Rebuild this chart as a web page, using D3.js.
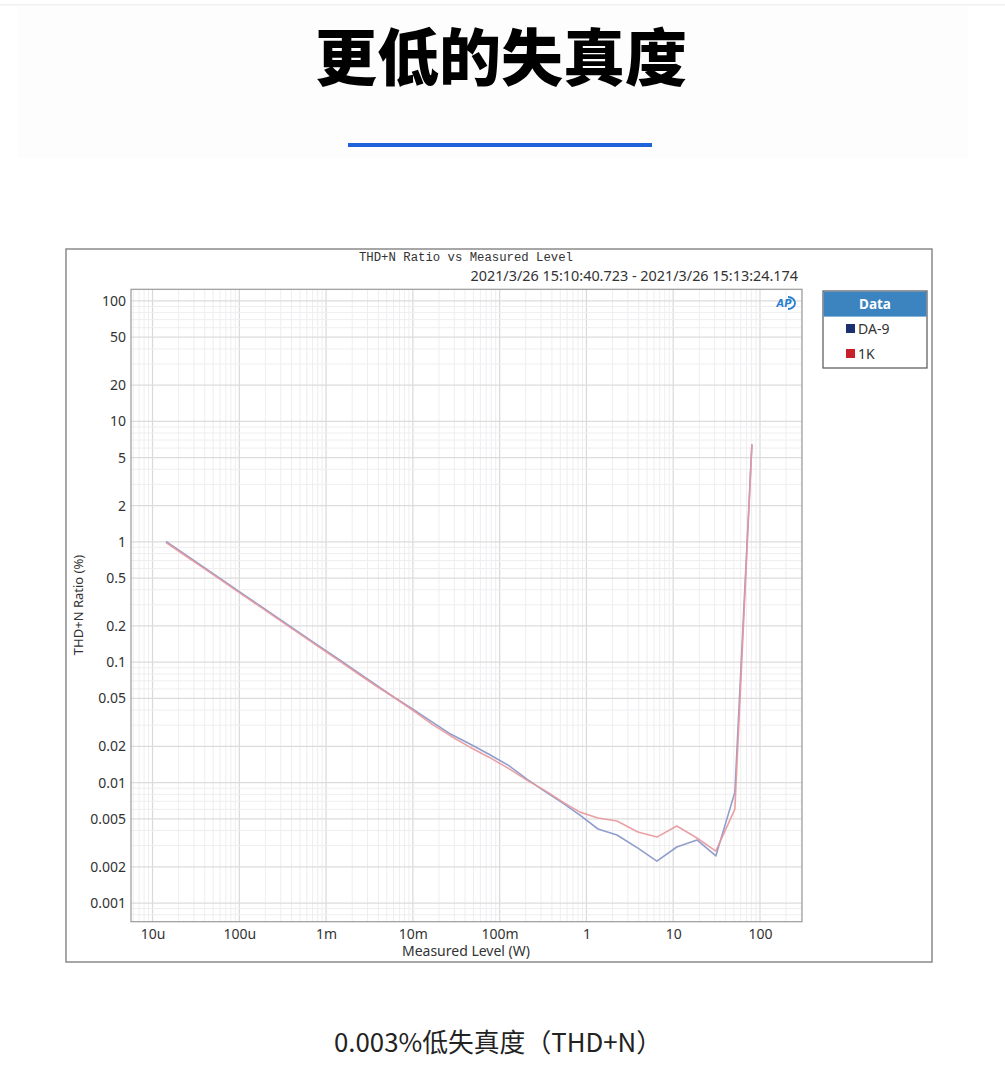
<!DOCTYPE html>
<html>
<head>
<meta charset="utf-8">
<script src="https://cdn.jsdelivr.net/npm/d3@7"></script>
<style>
  body { margin: 0; background: #fff; }
  svg { display: block; }
</style>
</head>
<body>
<script>
// Chart data
let levels = [1.43e-5, 2.37e-5, 3.92e-5, 6.49e-5, 1.07e-4, 1.78e-4, 2.94e-4, 4.87e-4,
  8.07e-4, 1.34e-3, 2.21e-3, 3.66e-3, 6.06e-3, 1.0e-2, 1.66e-2, 2.75e-2,
  4.55e-2, 7.53e-2, 0.125, 0.206, 0.342, 0.536, 0.842, 1.36,
  2.25, 3.92, 6.49, 11.0, 18.8, 31.0, 51.4, 80.7];
let da9 = [1.006, 0.785, 0.612, 0.478, 0.373, 0.291, 0.227, 0.177,
  0.138, 0.108, 0.0841, 0.0656, 0.0512, 0.0407, 0.032, 0.0252,
  0.0209, 0.0172, 0.01397, 0.0107, 0.00834, 0.00676, 0.00538, 0.00412,
  0.00367, 0.00286, 0.00223, 0.00292, 0.00334, 0.00246, 0.00834, 6.45];
let k1 = [0.987, 0.770, 0.601, 0.469, 0.366, 0.285, 0.2226, 0.1736,
  0.1354, 0.1057, 0.0825, 0.0644, 0.0512, 0.0399, 0.0306, 0.0243,
  0.0197, 0.01627, 0.01319, 0.01049, 0.0085, 0.00689, 0.00569, 0.00508,
  0.0048, 0.00389, 0.00353, 0.00436, 0.00347, 0.0027, 0.00603, 6.41];

let seriesNames = ["DA-9", "1K"];
let seriesColors = ["#1c2f70", "#c8202a"];
let lineColors = ["#8593c6", "#e8979b"];

let xTicks = [1e-5, 1e-4, 1e-3, 1e-2, 1e-1, 1, 10, 100];
let xTickLabels = ["10u", "100u", "1m", "10m", "100m", "1", "10", "100"];
let yTicks = [100, 50, 20, 10, 5, 2, 1, 0.5, 0.2, 0.1, 0.05, 0.02, 0.01, 0.005, 0.002, 0.001];
let yTickLabels = ["100", "50", "20", "10", "5", "2", "1", "0.5", "0.2", "0.1", "0.05", "0.02", "0.01", "0.005", "0.002", "0.001"];

let pageTitle = "更低的失真度";
let chartTitle = "THD+N Ratio vs Measured Level";
let chartStamp = "2021/3/26 15:10:40.723 - 2021/3/26 15:13:24.174";
let caption = "0.003%低失真度（THD+N）";

// Page size and plot box
let W = 1005, H = 1081;
let plot = {left: 131, right: 802, top: 289.3, bottom: 921.7};

let svg = d3.select("body").append("svg")
    .attr("width", W)
    .attr("height", H);

// Page header
svg.append("rect")
    .attr("x", 0).attr("y", 4).attr("width", W).attr("height", 1.5)
    .attr("fill", "#f0f0f0");
svg.append("rect")
    .attr("x", 18).attr("y", 6).attr("width", 950).attr("height", 152)
    .attr("fill", "#fdfdfd");

svg.append("text")
    .attr("x", 501).attr("y", 81)
    .attr("text-anchor", "middle")
    .style("font-family", "'Noto Sans CJK SC', sans-serif")
    .style("font-weight", 900)
    .style("font-size", "62px")
    .attr("fill", "#000")
    .text(pageTitle);

svg.append("rect")
    .attr("x", 348).attr("y", 143).attr("width", 304).attr("height", 4)
    .attr("fill", "#1d62d9");

// Chart frame
svg.append("rect")
    .attr("x", 66).attr("y", 249).attr("width", 866).attr("height", 713)
    .attr("fill", "#fff")
    .attr("stroke", "#8a8a8a")
    .attr("stroke-width", 1.5);

// Set the ranges
let x = d3.scaleLog().domain([5.65e-6, 305]).range([plot.left, plot.right]);
let y = d3.scaleLog().domain([0.0007, 125]).range([plot.bottom, plot.top]);

// Grid lines
let grid = svg.append("g");
let xGrid = [], yGrid = [];
for (let e = -6; e <= 3; e++) {
  for (let m = 1; m <= 9; m++) {
    let v = m * Math.pow(10, e);
    if (v > x.domain()[0] && v < x.domain()[1]) xGrid.push({v: v, major: m === 1});
    if (v > y.domain()[0] && v < y.domain()[1]) yGrid.push({v: v, major: m === 1 || m === 2 || m === 5});
  }
}
grid.selectAll(".xg").data(xGrid).enter().append("line")
    .attr("x1", d => x(d.v)).attr("x2", d => x(d.v))
    .attr("y1", plot.top).attr("y2", plot.bottom)
    .attr("stroke", d => d.major ? "#d9d9d9" : "#efedf0")
    .attr("stroke-width", d => d.major ? 1.2 : 1);
grid.selectAll(".yg").data(yGrid).enter().append("line")
    .attr("x1", plot.left).attr("x2", plot.right)
    .attr("y1", d => y(d.v)).attr("y2", d => y(d.v))
    .attr("stroke", d => d.major ? "#dcdcdc" : "#efedf0")
    .attr("stroke-width", d => d.major ? 1.2 : 1);

svg.append("rect")
    .attr("x", plot.left).attr("y", plot.top)
    .attr("width", plot.right - plot.left).attr("height", plot.bottom - plot.top)
    .attr("fill", "none")
    .attr("stroke", "#9a9a9a")
    .attr("stroke-width", 1.2);

// Define the axes
let xAxis = d3.axisBottom(x).tickValues(xTicks)
    .tickFormat((d, i) => xTickLabels[i]).tickSize(0).tickPadding(7);
let yAxis = d3.axisLeft(y).tickValues(yTicks)
    .tickFormat((d, i) => yTickLabels[i]).tickSize(0).tickPadding(5);

let gx = svg.append("g")
    .attr("transform", "translate(0," + plot.bottom + ")")
    .call(xAxis);
let gy = svg.append("g")
    .attr("transform", "translate(" + plot.left + ",0)")
    .call(yAxis);
[gx, gy].forEach(function(g) {
  g.select(".domain").remove();
  g.selectAll("text")
      .style("font-family", "'Noto Sans', sans-serif")
      .style("font-size", "14px")
      .attr("fill", "#333");
});

// Axis titles
svg.append("text")
    .attr("x", 466).attr("y", 956)
    .attr("text-anchor", "middle")
    .style("font-family", "'Noto Sans', sans-serif")
    .style("font-size", "14px")
    .attr("fill", "#333")
    .text("Measured Level (W)");

svg.append("text")
    .attr("transform", "translate(83,605) rotate(-90)")
    .attr("text-anchor", "middle")
    .style("font-family", "'Noto Sans', sans-serif")
    .style("font-size", "13px")
    .attr("fill", "#333")
    .text("THD+N Ratio (%)");

// Chart titles
svg.append("text")
    .attr("x", 466).attr("y", 261)
    .attr("text-anchor", "middle")
    .style("font-family", "'Liberation Mono', monospace")
    .style("font-size", "12.3px")
    .attr("fill", "#333")
    .text(chartTitle);

svg.append("text")
    .attr("x", 798).attr("y", 281)
    .attr("text-anchor", "end")
    .style("font-family", "'Noto Sans', sans-serif")
    .style("font-size", "14.4px")
    .attr("fill", "#333")
    .text(chartStamp);

// AP mark
let ap = svg.append("g").attr("transform", "translate(784,303)");
ap.append("path")
    .attr("d", "M4,-6 A7,6 0 0 1 4,6")
    .attr("fill", "none")
    .attr("stroke", "#2a7fd0")
    .attr("stroke-width", 1.8);
ap.append("text")
    .attr("x", 0).attr("y", 4)
    .attr("text-anchor", "middle")
    .style("font-family", "'DejaVu Sans', sans-serif")
    .style("font-size", "10px")
    .style("font-weight", "bold")
    .style("font-style", "italic")
    .attr("fill", "#2a7fd0")
    .text("AP");

// Define the line
let valueline = d3.line()
    .x(d => x(d[0]))
    .y(d => y(d[1]));

[da9, k1].forEach(function(vals, i) {
  svg.append("path")
      .datum(levels.map((l, j) => [l, vals[j]]))
      .attr("d", valueline)
      .attr("fill", "none")
      .attr("stroke", lineColors[i])
      .attr("stroke-width", 1.6)
      .attr("stroke-opacity", 0.9)
      .attr("stroke-linejoin", "round");
});

// Legend
let lg = svg.append("g").attr("transform", "translate(823,291)");
lg.append("rect")
    .attr("width", 104).attr("height", 77)
    .attr("fill", "#fff")
    .attr("stroke", "#555")
    .attr("stroke-width", 1.2);
lg.append("rect")
    .attr("x", 0.6).attr("y", 0.6).attr("width", 102.8).attr("height", 25)
    .attr("fill", "#3c84c0");
lg.append("text")
    .attr("x", 52).attr("y", 17.5)
    .attr("text-anchor", "middle")
    .style("font-family", "'Noto Sans', sans-serif")
    .style("font-size", "13.5px")
    .style("font-weight", "bold")
    .attr("fill", "#fff")
    .text("Data");
seriesNames.forEach(function(name, i) {
  lg.append("rect")
      .attr("x", 23).attr("y", 33 + i * 25)
      .attr("width", 9).attr("height", 9)
      .attr("fill", seriesColors[i]);
  lg.append("text")
      .attr("x", 35).attr("y", 42.5 + i * 25)
      .style("font-family", "'Noto Sans', sans-serif")
      .style("font-size", "14px")
      .attr("fill", "#333")
      .text(name);
});

// Caption
svg.append("text")
    .attr("x", 498).attr("y", 1052)
    .attr("text-anchor", "middle")
    .style("font-family", "'Noto Sans CJK SC', sans-serif")
    .style("font-size", "25.8px")
    .attr("fill", "#222")
    .text(caption);
</script>
</body>
</html>
